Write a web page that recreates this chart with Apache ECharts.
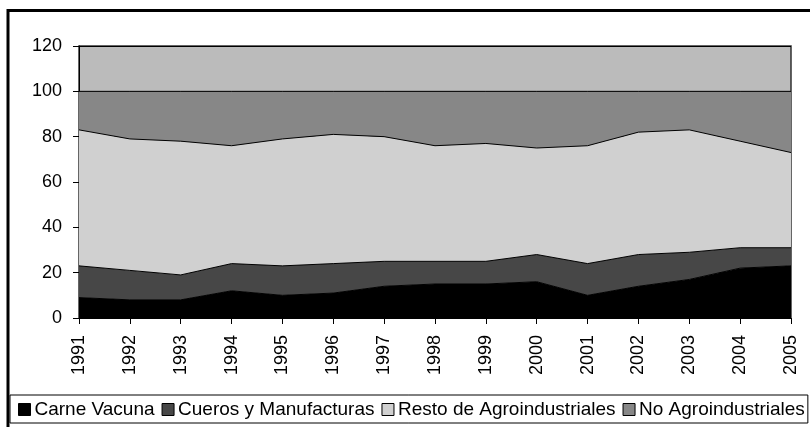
<!DOCTYPE html>
<html>
<head>
<meta charset="utf-8">
<script src="https://cdn.jsdelivr.net/npm/echarts@6/dist/echarts.min.js"></script>
<style>
html,body{margin:0;padding:0;background:#fff;}
#c{width:810px;height:427px;}
</style>
</head>
<body>
<div id="c"></div>
<script>
var years = ['1991','1992','1993','1994','1995','1996','1997','1998','1999','2000','2001','2002','2003','2004','2005'];
var carneVacuna = [9, 8, 8, 12, 10, 11, 14, 15, 15, 16, 10, 14, 17, 22, 23];
var cueros = [14, 13, 11, 12, 13, 13, 11, 10, 10, 12, 14, 14, 12, 9, 8];
var resto = [60, 58, 59, 52, 56, 57, 55, 51, 52, 47, 52, 54, 54, 47, 42];
var noAgro = [17, 21, 22, 24, 21, 19, 20, 24, 23, 25, 24, 18, 17, 22, 27];
var seriesNames = ['Carne Vacuna', 'Cueros y Manufacturas', 'Resto de Agroindustriales', 'No Agroindustriales'];
var seriesColors = ['#000000', '#474747', '#D0D0D0', '#878787'];
var seriesData = [carneVacuna, cueros, resto, noAgro];

var font = 'Arial, "Liberation Sans", sans-serif';
var chart = echarts.init(document.getElementById('c'));
var series = seriesNames.map(function (n, i) {
  return {
    name: n,
    type: 'line',
    stack: 'total',
    data: seriesData[i],
    showSymbol: false,
    symbol: 'none',
    lineStyle: { color: '#000', width: 1 },
    areaStyle: { color: seriesColors[i], opacity: 1 },
    itemStyle: { color: seriesColors[i], borderColor: '#000', borderWidth: 1 },
    emphasis: { disabled: true },
    animation: false
  };
});
chart.setOption({
  animation: false,
  graphic: [{
    type: 'rect',
    shape: { x: 8, y: 10.5, width: 820, height: 440 },
    style: { fill: 'none', stroke: '#000', lineWidth: 3 },
    z: 100
  }],
  grid: {
    left: 79, right: 19, top: 46, bottom: 109,
    show: true, backgroundColor: '#BBBBBB', borderColor: '#333', borderWidth: 1.5
  },
  legend: {
    left: 10, top: 395,
    width: 795,
    padding: [5, 3, 4, 8],
    borderColor: '#000', borderWidth: 1,
    itemWidth: 12, itemHeight: 12, itemGap: 7,
    icon: 'rect',
    textStyle: { fontFamily: font, fontSize: 19, color: '#000', padding: [0, 0, 0, -1] },
    data: seriesNames.map(function (n, i) {
      return { name: n, itemStyle: { color: seriesColors[i], borderColor: '#000', borderWidth: 1 } };
    })
  },
  xAxis: {
    type: 'category',
    data: years,
    boundaryGap: false,
    axisLine: { lineStyle: { color: '#000', width: 1 } },
    axisTick: { show: true, length: 6, lineStyle: { color: '#000' } },
    axisLabel: { rotate: 90, fontFamily: font, fontSize: 18, color: '#000', margin: 17 },
    splitLine: { show: false }
  },
  yAxis: {
    type: 'value',
    min: 0, max: 120, interval: 20,
    axisLine: { show: true, lineStyle: { color: '#000', width: 1 } },
    axisTick: { show: true, length: 6, lineStyle: { color: '#000' } },
    axisLabel: { fontFamily: font, fontSize: 18, color: '#000', margin: 17 },
    splitLine: { show: true, lineStyle: { color: '#000', width: 1 } }
  },
  series: series
});
</script>
</body>
</html>
